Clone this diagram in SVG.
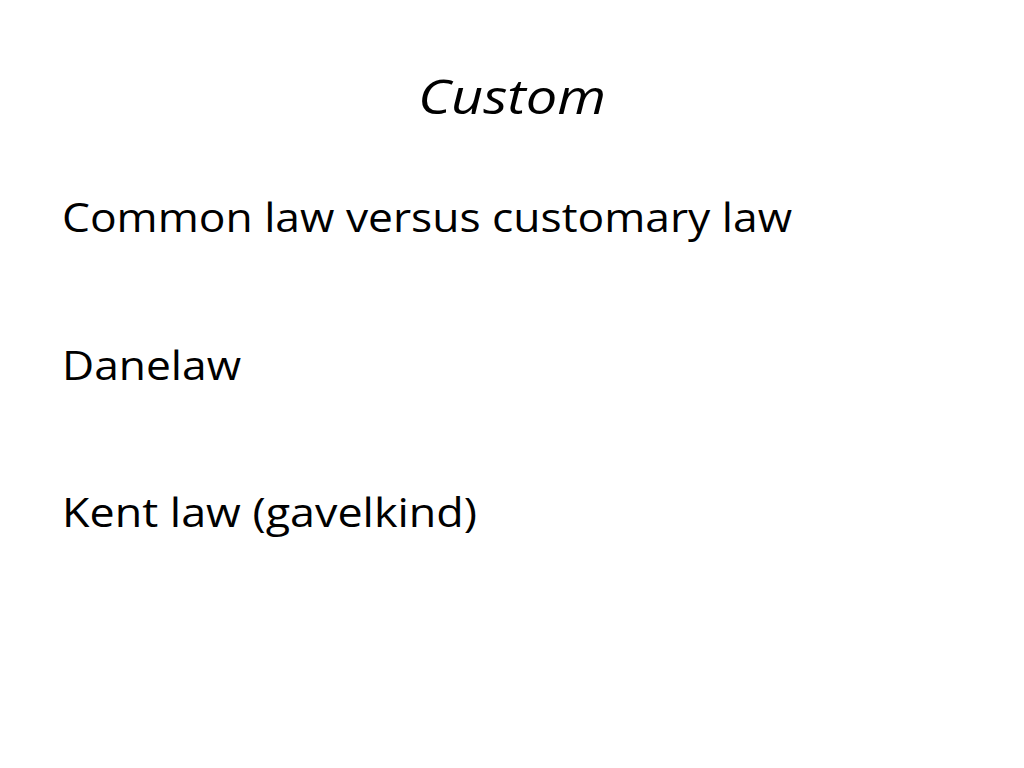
<svg xmlns="http://www.w3.org/2000/svg" width="1024" height="768" viewBox="0 0 1024 768">
<style>
.t{font-family:"Open Sans","Liberation Sans",sans-serif;fill:#000}
.b{font-size:40px}
</style>
<rect width="1024" height="768" fill="#fff"/>
<g id="title"><text class="t" x="418" y="114" font-size="48" font-style="italic" textLength="188" lengthAdjust="spacingAndGlyphs">Custom</text></g>
<g id="body">
<text class="t b" x="62" y="232" textLength="730" lengthAdjust="spacingAndGlyphs">Common law versus customary law</text>
<text class="t b" x="62" y="380" textLength="179" lengthAdjust="spacingAndGlyphs">Danelaw</text>
<text class="t b" x="62" y="527" textLength="415" lengthAdjust="spacingAndGlyphs">Kent law (gavelkind)</text>
</g>
</svg>
